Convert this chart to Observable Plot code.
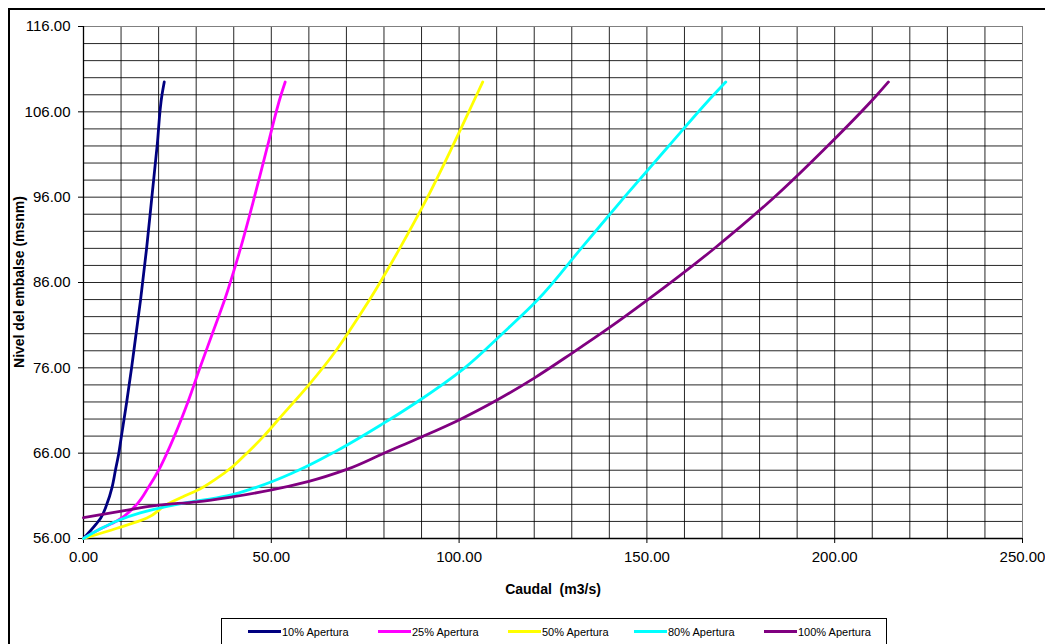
<!DOCTYPE html>
<html>
<head>
<meta charset="utf-8">
<script src="https://cdn.jsdelivr.net/npm/d3@7"></script>
<script src="https://cdn.jsdelivr.net/npm/@observablehq/plot@0.6"></script>
<style>
  html, body { margin: 0; padding: 0; background: #fff; overflow: hidden; width: 1045px; height: 644px; }
  body { position: relative; font-family: "Liberation Sans", Arial, sans-serif; }
  #frame { position: absolute; left: 8px; top: 8px; width: 1100px; height: 700px; border: 2px solid #000; box-sizing: border-box; }
  #chart { position: absolute; left: 0; top: 0; }
  .ytitle { position: absolute; left: 19px; top: 282px; transform: translate(-50%, -50%) rotate(-90deg); font-weight: bold; font-size: 14px; white-space: pre; color: #000; }
  .xtitle { position: absolute; left: 553px; top: 589px; transform: translate(-50%, -50%); font-weight: bold; font-size: 14px; white-space: pre; color: #000; }
  #legend { position: absolute; left: 221px; top: 618px; width: 666px; height: 40px; border: 1px solid #000; box-sizing: border-box; background: #fff; }
  .lg-line { position: absolute; height: 3px; width: 33px; }
  .lg-text { position: absolute; font-size: 11px; line-height: 12px; color: #000; white-space: nowrap; }
</style>
</head>
<body>
<div id="frame"></div>
<div id="chart"></div>
<div class="ytitle">Nivel del embalse (msnm)</div>
<div class="xtitle">Caudal  (m3/s)</div>
<div id="legend"></div>
<script>
// Tick / grid values
const xTicks = [0, 50, 100, 150, 200, 250];
const yTicks = [56, 66, 76, 86, 96, 106, 116];
const xGrid = [0,10,20,30,40,50,60,70,80,90,100,110,120,130,140,150,160,170,180,190,200,210,220,230,240,250];
const yGrid = [56,58,60,62,64,66,68,70,72,74,76,78,80,82,84,86,88,90,92,94,96,98,100,102,104,106,108,110,112,114,116];

// Series names and colours
const seriesNames = ["10% Apertura", "25% Apertura", "50% Apertura", "80% Apertura", "100% Apertura"];
const seriesColors = ["#000080", "#FF00FF", "#FFFF00", "#00FFFF", "#800080"];

// 10% Apertura
const q10 = [0, 3.4, 4.6, 6.2, 7.6, 8.5, 9.4, 10.1, 11.5, 12.8, 14.0, 15.2, 16.8, 18.2, 19.6, 20.9, 21.5];
const h10 = [56, 57.7, 58.4, 60, 62, 64, 66, 68, 72, 76, 80, 84, 90, 96, 102, 108, 109.5];
// 25% Apertura
const q25 = [0, 4.4, 8.9, 14.2, 17.3, 20.0, 22.2, 24.2, 27.8, 31.0, 34.3, 37.6, 41.8, 45.5, 49.0, 52.6, 53.7];
const h25 = [56, 57.1, 58.05, 60, 62, 64, 66, 68, 72, 76, 80, 84, 90, 96, 102, 108, 109.5];
// 50% Apertura
const q50 = [0, 8.9, 16.9, 22.2, 27.0, 31.0, 35.0, 39.9, 43.5, 48.0, 52.0, 60.0, 67.2, 70.3, 76.2, 84.2, 91.6, 98.3, 104.7, 106.3];
const h50 = [56, 57.2, 58.4, 60, 61, 61.8, 62.9, 64.5, 66, 68, 70, 74, 78, 80, 84, 90, 96, 102, 108, 109.5];
// 80% Apertura
const q80 = [0, 4.4, 8.9, 15.1, 24.9, 38.2, 46.0, 56.8, 67.5, 79.5, 88.8, 101.5, 111.5, 121.0, 132.5, 144.0, 155.8, 167.8, 171.0];
const h80 = [56, 57.1, 58.05, 59, 60, 61, 62, 63.9, 66.3, 69.4, 72, 76, 80, 84, 90, 96, 102, 108, 109.5];
// 100% Apertura
const q100 = [0, 10.1, 20.0, 30.1, 40.0, 50.1, 60.0, 70.1, 80.0, 90.0, 100.0, 110.0, 120.0, 130.0, 140.0, 150.0, 167.7, 183.7, 197.9, 211.3, 214.3];
const h100 = [58.44, 59.2, 59.9, 60.3, 60.9, 61.7, 62.7, 64.1, 66, 67.9, 69.9, 72.2, 74.8, 77.7, 80.7, 83.9, 89.9, 95.9, 101.9, 108, 109.5];

const allQ = [q10, q25, q50, q80, q100];
const allH = [h10, h25, h50, h80, h100];

const lineMarks = allQ.map((qs, i) =>
  Plot.line(qs.map((q, j) => ({q, h: allH[i][j]})), {
    x: "q", y: "h", stroke: seriesColors[i], strokeWidth: 2.8, curve: "monotone-y"
  })
);

const fmt = d => d.toFixed(2);

const chart = Plot.plot({
  width: 1045,
  height: 600,
  marginLeft: 83,
  marginRight: 23,
  marginTop: 26,
  marginBottom: 62,
  style: { fontFamily: '"Liberation Sans", Arial, sans-serif', fontSize: "15px", background: "transparent", color: "#000" },
  x: { domain: [0, 250] },
  y: { domain: [56, 116] },
  marks: [
    Plot.ruleX(xGrid, { stroke: "#000", strokeWidth: 1, strokeOpacity: 0.85 }),
    Plot.ruleY(yGrid, { stroke: "#000", strokeWidth: 1, strokeOpacity: 0.85 }),
    Plot.frame({ stroke: "#808080", strokeWidth: 1 }),
    Plot.ruleX([0], { stroke: "#000", strokeWidth: 1.3 }),
    Plot.ruleY([56], { stroke: "#000", strokeWidth: 1.3 }),
    Plot.axisY({ ticks: yTicks, tickFormat: fmt, tickSize: 5, tickPadding: 8, fontSize: 15, label: null, stroke: "#000" }),
    Plot.axisX({ ticks: xTicks, tickFormat: fmt, tickSize: 5, tickPadding: 8, fontSize: 15, label: null, stroke: "#000" }),
    ...lineMarks
  ]
});
document.getElementById("chart").appendChild(chart);

// Legend
const legend = document.getElementById("legend");
const legendX = [26, 156, 286, 412, 542];
seriesNames.forEach((name, i) => {
  const ln = document.createElement("div");
  ln.className = "lg-line";
  ln.style.left = legendX[i] + "px";
  ln.style.top = "11px";
  ln.style.background = seriesColors[i];
  legend.appendChild(ln);
  const tx = document.createElement("div");
  tx.className = "lg-text";
  tx.style.left = (legendX[i] + 34) + "px";
  tx.style.top = "6.5px";
  tx.textContent = name;
  legend.appendChild(tx);
});
</script>
</body>
</html>
